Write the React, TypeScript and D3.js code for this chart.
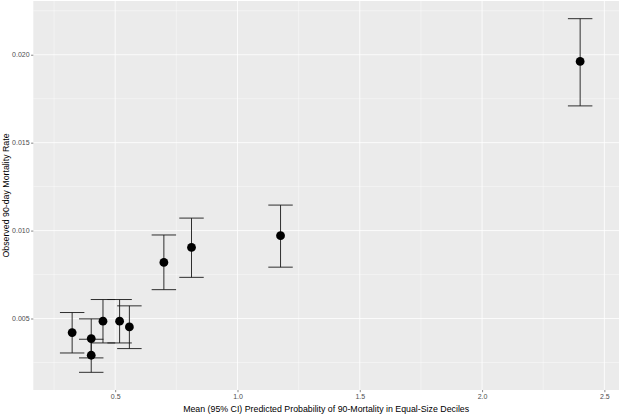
import { useEffect, useRef } from "react";
import * as d3 from "d3";

// deciles: mean predicted probability vs observed 90-day mortality (95% CI)
const predicted = [0.324, 0.402, 0.45, 0.518, 0.558, 0.402, 0.699, 0.812, 1.176, 2.401];
const observed = [0.0042, 0.00386, 0.00485, 0.00485, 0.00452, 0.00291, 0.00819, 0.00904, 0.00971, 0.01962];
const lower = [0.00304, 0.00276, 0.00361, 0.00361, 0.00329, 0.00194, 0.00664, 0.00734, 0.00792, 0.01709];
const upper = [0.00534, 0.00498, 0.00608, 0.00608, 0.00572, 0.00382, 0.00975, 0.01071, 0.01145, 0.02205];

const xTicks = [0.5, 1.0, 1.5, 2.0, 2.5];
const xMinor = [0.25, 0.75, 1.25, 1.75, 2.25];
const yTicks = [0.005, 0.01, 0.015, 0.02];
const yMinor = [0.0025, 0.0075, 0.0125, 0.0175, 0.0225];

const xTitle = "Mean (95% CI) Predicted Probability of 90-Mortality in Equal-Size Deciles";
const yTitle = "Observed 90-day Mortality Rate";

const capHalf = 0.05;

export default function App() {
  const svgRef = useRef<SVGSVGElement>(null);

  useEffect(() => {
    if (!svgRef.current) return;
    const width = 620;
    const height = 414;
    const margin = { top: 1, right: 1, bottom: 24, left: 33.3 };

    d3.select(svgRef.current).selectAll("*").remove();
    const svg = d3.select(svgRef.current).attr("viewBox", `0 0 ${width} ${height}`);

    const rows = predicted.map((p, i) => ({ p, o: observed[i], lo: lower[i], hi: upper[i] }));

    const xMin = d3.min(rows, (d) => d.p - capHalf)!;
    const xMax = d3.max(rows, (d) => d.p + capHalf)!;
    const yMin = d3.min(rows, (d) => d.lo)!;
    const yMax = d3.max(rows, (d) => d.hi)!;
    const ex = (xMax - xMin) * 0.05;
    const ey = (yMax - yMin) * 0.05;

    const x = d3
      .scaleLinear()
      .domain([xMin - ex, xMax + ex])
      .range([margin.left, width - margin.right]);
    const y = d3
      .scaleLinear()
      .domain([yMin - ey, yMax + ey])
      .range([height - margin.bottom, margin.top]);

    const [x0, x1] = x.range();
    const [y0, y1] = y.range();

    svg
      .append("rect")
      .attr("x", x0)
      .attr("y", y1)
      .attr("width", x1 - x0)
      .attr("height", y0 - y1)
      .attr("fill", "#EBEBEB");

    const grid = svg.append("g").attr("stroke", "#fff").attr("fill", "none");
    grid
      .selectAll("line.ym")
      .data(yMinor)
      .join("line")
      .attr("x1", x0)
      .attr("x2", x1)
      .attr("y1", (d) => y(d))
      .attr("y2", (d) => y(d))
      .attr("stroke-width", 0.4);
    grid
      .selectAll("line.xm")
      .data(xMinor)
      .join("line")
      .attr("x1", (d) => x(d))
      .attr("x2", (d) => x(d))
      .attr("y1", y0)
      .attr("y2", y1)
      .attr("stroke-width", 0.4);
    grid
      .selectAll("line.yM")
      .data(yTicks)
      .join("line")
      .attr("x1", x0)
      .attr("x2", x1)
      .attr("y1", (d) => y(d))
      .attr("y2", (d) => y(d))
      .attr("stroke-width", 0.8);
    grid
      .selectAll("line.xM")
      .data(xTicks)
      .join("line")
      .attr("x1", (d) => x(d))
      .attr("x2", (d) => x(d))
      .attr("y1", y0)
      .attr("y2", y1)
      .attr("stroke-width", 0.8);

    // axes
    const font = "'Liberation Sans', Arial, sans-serif";
    const xAxis = svg
      .append("g")
      .attr("transform", `translate(0,${y0})`)
      .call(d3.axisBottom(x).tickValues(xTicks).tickFormat(d3.format(".1f")).tickSize(2.2).tickPadding(2));
    const yAxis = svg
      .append("g")
      .attr("transform", `translate(${x0},0)`)
      .call(d3.axisLeft(y).tickValues(yTicks).tickFormat(d3.format(".3f")).tickSize(2.2).tickPadding(1.5));
    [xAxis, yAxis].forEach((a) => {
      a.select(".domain").remove();
      a.selectAll(".tick line").attr("stroke", "#333").attr("stroke-width", 0.6);
      a.selectAll(".tick text").attr("fill", "#4D4D4D").attr("font-size", 7).attr("font-family", font);
    });

    // error bars
    const bars = svg.append("g").attr("stroke", "#1a1a1a").attr("stroke-width", 0.9).attr("fill", "none");
    bars
      .selectAll("line.v")
      .data(rows)
      .join("line")
      .attr("x1", (d) => x(d.p))
      .attr("x2", (d) => x(d.p))
      .attr("y1", (d) => y(d.lo))
      .attr("y2", (d) => y(d.hi));
    bars
      .selectAll("line.top")
      .data(rows)
      .join("line")
      .attr("x1", (d) => x(d.p - capHalf))
      .attr("x2", (d) => x(d.p + capHalf))
      .attr("y1", (d) => y(d.hi))
      .attr("y2", (d) => y(d.hi));
    bars
      .selectAll("line.bot")
      .data(rows)
      .join("line")
      .attr("x1", (d) => x(d.p - capHalf))
      .attr("x2", (d) => x(d.p + capHalf))
      .attr("y1", (d) => y(d.lo))
      .attr("y2", (d) => y(d.lo));

    svg
      .append("g")
      .selectAll("circle")
      .data(rows)
      .join("circle")
      .attr("cx", (d) => x(d.p))
      .attr("cy", (d) => y(d.o))
      .attr("r", 4.4)
      .attr("fill", "#000");

    svg
      .append("text")
      .attr("x", (x0 + x1) / 2)
      .attr("y", 412)
      .attr("text-anchor", "middle")
      .attr("font-size", 8.8)
      .attr("font-family", font)
      .attr("fill", "#000")
      .text(xTitle);

    svg
      .append("text")
      .attr("transform", `translate(9,${(y0 + y1) / 2}) rotate(-90)`)
      .attr("text-anchor", "middle")
      .attr("font-size", 8.8)
      .attr("font-family", font)
      .attr("fill", "#000")
      .text(yTitle);
  }, []);

  return (
    <svg
      ref={svgRef}
      width={620}
      height={414}
      style={{ position: "fixed", left: 0, top: 0, background: "#fff" }}
    />
  );
}
